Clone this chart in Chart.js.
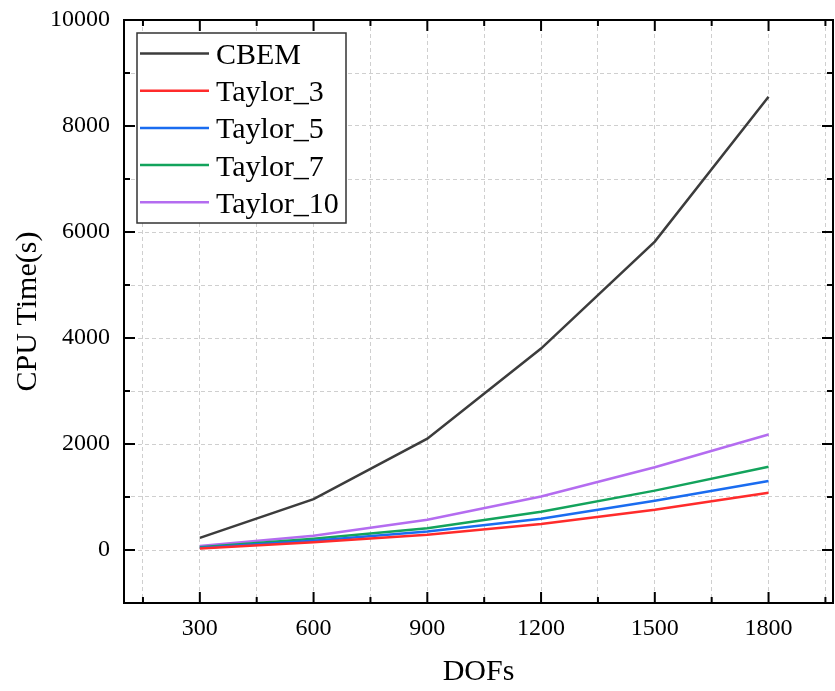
<!DOCTYPE html>
<html>
<head>
<meta charset="utf-8">
<script src="https://cdn.jsdelivr.net/npm/chart.js@4.4.0/dist/chart.umd.min.js"></script>
<style>
  html, body { margin: 0; padding: 0; background: #fff; }
  #wrap { width: 835px; height: 691px; }
</style>
</head>
<body>
<div id="wrap"><canvas id="cpu-chart" width="835" height="691"></canvas></div>
<script>
// degrees of freedom (x) and CPU time in seconds for each method
const dofs = [300, 600, 900, 1200, 1500, 1800];
const cbem = [230, 960, 2100, 3800, 5820, 8550];
const taylor3 = [30, 145, 290, 490, 760, 1080];
const taylor5 = [40, 175, 350, 590, 930, 1300];
const taylor7 = [50, 210, 410, 720, 1120, 1570];
const taylor10 = [75, 270, 570, 1010, 1560, 2180];

const seriesNames = ['CBEM', 'Taylor_3', 'Taylor_5', 'Taylor_7', 'Taylor_10'];
const seriesValues = [cbem, taylor3, taylor5, taylor7, taylor10];
const seriesColors = ['#3c3c3c', '#ff2b2b', '#1a6cf0', '#13a35c', '#b46cf0'];

// grid/tick positions, labelled ones are the major ticks
const xTicks = [150, 300, 450, 600, 750, 900, 1050, 1200, 1350, 1500, 1650, 1800, 1950];
const xLabels = [300, 600, 900, 1200, 1500, 1800];
const yTicks = [-1000, 0, 1000, 2000, 3000, 4000, 5000, 6000, 7000, 8000, 9000, 10000];
const yLabels = [0, 2000, 4000, 6000, 8000, 10000];

const serif = "'Liberation Serif', 'Times New Roman', serif";

const datasets = seriesNames.map((name, i) => ({
  label: name,
  data: dofs.map((d, j) => ({ x: d, y: seriesValues[i][j] })),
  borderColor: seriesColors[i],
  backgroundColor: seriesColors[i],
  borderWidth: 2.5,
  pointRadius: 0,
  tension: 0,
  fill: false
}));

// frame, inward ticks and the boxed legend
const framePlugin = {
  id: 'frame',
  afterDraw(chart) {
    const { ctx, chartArea: a, scales: { x, y } } = chart;
    ctx.save();
    ctx.strokeStyle = '#000';
    ctx.lineWidth = 2;

    function line(x1, y1, x2, y2) {
      ctx.beginPath();
      ctx.moveTo(x1, y1);
      ctx.lineTo(x2, y2);
      ctx.stroke();
    }

    xTicks.forEach(v => {
      const px = x.getPixelForValue(v);
      const len = xLabels.includes(v) ? 11 : 6;
      line(px, a.bottom, px, a.bottom - len);
      line(px, a.top, px, a.top + len);
    });
    yTicks.forEach(v => {
      if (v <= -1000 || v >= 10000) return;
      const py = y.getPixelForValue(v);
      const len = yLabels.includes(v) ? 11 : 6;
      line(a.left, py, a.left + len, py);
      line(a.right, py, a.right - len, py);
    });

    ctx.strokeRect(a.left, a.top, a.right - a.left, a.bottom - a.top);

    // legend
    const bx = a.left + 13, by = a.top + 13, bw = 209, bh = 190;
    ctx.fillStyle = '#fff';
    ctx.fillRect(bx, by, bw, bh);
    ctx.lineWidth = 1.5;
    ctx.strokeStyle = '#333';
    ctx.strokeRect(bx, by, bw, bh);

    ctx.font = '30px ' + serif;
    ctx.textBaseline = 'alphabetic';
    ctx.textAlign = 'left';
    chart.data.datasets.forEach((ds, i) => {
      const ry = by + 20.5 + i * 37.2;
      ctx.strokeStyle = ds.borderColor;
      ctx.lineWidth = 2.5;
      line(bx + 3, ry, bx + 72, ry);
      ctx.fillStyle = '#000';
      ctx.fillText(ds.label, bx + 79, ry + 10.5);
    });
    ctx.restore();
  }
};

new Chart(document.getElementById('cpu-chart').getContext('2d'), {
  type: 'line',
  data: { datasets: datasets },
  options: {
    responsive: false,
    animation: false,
    devicePixelRatio: 1,
    layout: { padding: { top: 20, right: 2, left: 0, bottom: 0 } },
    plugins: {
      legend: { display: false },
      tooltip: { enabled: false }
    },
    scales: {
      x: {
        type: 'linear',
        min: 100,
        max: 1970,
        afterBuildTicks: s => { s.ticks = xTicks.map(v => ({ value: v })); },
        afterFit: s => { s.height = 88; s.paddingLeft = 0; s.paddingRight = 0; },
        grid: { color: '#cfcfcf', lineWidth: 1, drawTicks: false },
        border: { display: false, dash: [4, 3] },
        ticks: {
          autoSkip: false,
          maxRotation: 0,
          padding: 11,
          color: '#000',
          font: { family: serif, size: 24 },
          callback: v => xLabels.includes(v) ? String(v) : ''
        },
        title: {
          display: true,
          text: 'DOFs',
          color: '#000',
          font: { family: serif, size: 30 },
          padding: { top: 0, bottom: 1 }
        }
      },
      y: {
        type: 'linear',
        min: -1000,
        max: 10000,
        afterBuildTicks: s => { s.ticks = yTicks.map(v => ({ value: v })); },
        afterFit: s => { s.width = 124; s.paddingTop = 0; s.paddingBottom = 0; },
        grid: { color: '#cfcfcf', lineWidth: 1, drawTicks: false },
        border: { display: false, dash: [4, 3] },
        ticks: {
          autoSkip: false,
          padding: 14,
          color: '#000',
          font: { family: serif, size: 24 },
          callback: v => yLabels.includes(v) ? String(v) : ''
        },
        title: {
          display: true,
          text: 'CPU Time(s)',
          color: '#000',
          font: { family: serif, size: 30 },
          padding: { top: 10, bottom: 0 }
        }
      }
    }
  },
  plugins: [framePlugin]
});
</script>
</body>
</html>
